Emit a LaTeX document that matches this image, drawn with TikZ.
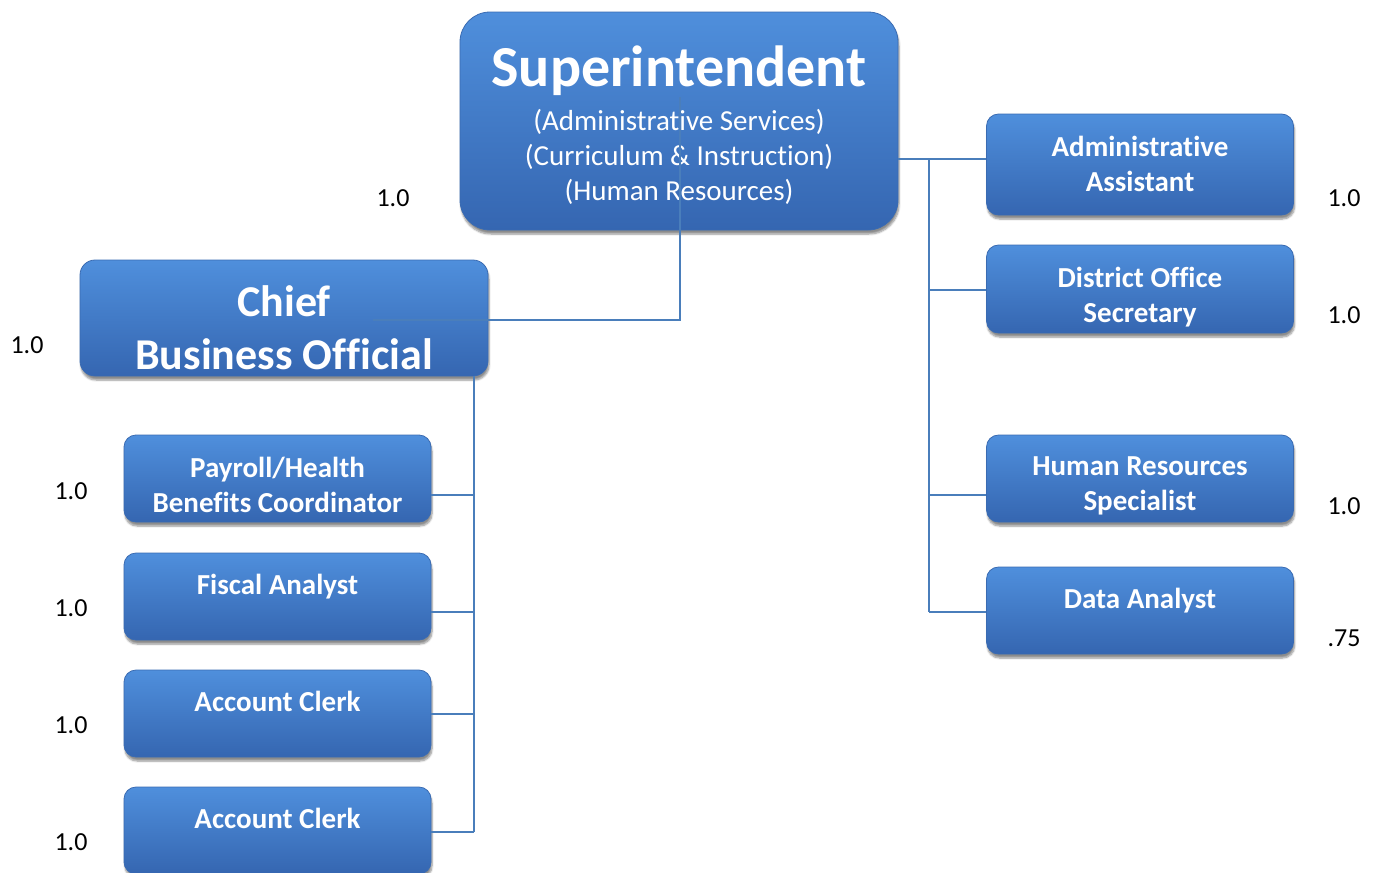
\documentclass[tikz,border=0pt]{standalone}
\usepackage{fontspec}
\setmainfont{Carlito}[Ligatures=NoCommon]
\usetikzlibrary{shadows.blur,calc}

\definecolor{boxtop}{HTML}{4F8FDC}
\definecolor{boxbot}{HTML}{3566B1}
\definecolor{boxedge}{HTML}{3A6BB2}
\definecolor{wire}{HTML}{4A7EBB}

\tikzset{
  card/.style={rounded corners=12pt, top color=boxtop, bottom color=boxbot,
    draw=boxedge, line width=0.8pt, inner sep=0pt,
    blur shadow={shadow xshift=1pt, shadow yshift=-4pt,
      shadow blur steps=6, shadow opacity=45}},
  smallcard/.style={card, minimum width=307pt, minimum height=87pt},
  cardtext/.style={text=white, align=center, inner sep=0pt, anchor=north,
    font=\fontsize{29}{35}\selectfont\bfseries},
  fte/.style={text=black, inner sep=0pt, font=\fontsize{26}{30}\selectfont},
  wireline/.style={draw=wire, line width=1.6pt},
}

\begin{document}
\begin{tikzpicture}[x=1pt, y=-1pt]
\useasboundingbox (0,0) rectangle (1377,873);

% top level
\node[card, rounded corners=30pt, minimum width=438pt, minimum height=218pt] (sup) at (679,121) {};
\node[text=white, align=center, inner sep=0pt, anchor=north,
      font=\fontsize{29}{35}\selectfont] (sup-t) at ($(sup.north)+(0,34)$)
  {{\fontsize{58}{60}\selectfont\bfseries Superintendent}\\[9pt]
   (Administrative Services)\\
   (Curriculum \& Instruction)\\
   (Human Resources)};

\node[card, rounded corners=15pt, minimum width=408pt, minimum height=116pt] (cbo) at (284,318) {};
\node[text=white, align=center, inner sep=0pt, anchor=north,
      font=\fontsize{44}{53}\selectfont\bfseries] (cbo-t) at ($(cbo.north)+(0,26)$)
  {Chief\\Business Official};

% business office staff
\node[smallcard] (pay) at (277.5,478.5) {};
\node[cardtext] (pay-t) at ($(pay.north)+(0,22)$) {Payroll/Health\\Benefits Coordinator};
\node[smallcard] (fis) at (277.5,596.5) {};
\node[cardtext] (fis-t) at ($(fis.north)+(0,21)$) {Fiscal Analyst};
\node[smallcard] (ac1) at (277.5,713.5) {};
\node[cardtext] (ac1-t) at ($(ac1.north)+(0,21)$) {Account Clerk};
\node[smallcard] (ac2) at (277.5,830.5) {};
\node[cardtext] (ac2-t) at ($(ac2.north)+(0,21)$) {Account Clerk};

% superintendent's office staff
\node[smallcard, minimum height=101pt] (aa) at (1140,164.5) {};
\node[cardtext] (aa-t) at ($(aa.north)+(0,22)$) {Administrative\\Assistant};
\node[smallcard, minimum height=88pt] (dos) at (1140,289) {};
\node[cardtext] (dos-t) at ($(dos.north)+(0,22)$) {District Office\\Secretary};
\node[smallcard] (hr) at (1140,478.5) {};
\node[cardtext] (hr-t) at ($(hr.north)+(0,22)$) {Human Resources\\Specialist};
\node[smallcard] (da) at (1140,610.5) {};
\node[cardtext] (da-t) at ($(da.north)+(0,21)$) {Data Analyst};

% connectors
\coordinate (supin) at (680,97);
\coordinate (cboin) at (373,320);
\draw[wireline] (supin) |- (cboin);

\coordinate (lbus) at (474,376);
\coordinate (rbus) at (929,159);
\draw[wireline] (cbo.south -| lbus) -- (lbus |- 0,832);
\draw[wireline] (lbus |- 0,495) -- (pay.east |- 0,495);
\draw[wireline] (lbus |- 0,612) -- (fis.east |- 0,612);
\draw[wireline] (lbus |- 0,714) -- (ac1.east |- 0,714);
\draw[wireline] (lbus |- 0,832) -- (ac2.east |- 0,832);

\draw[wireline] (sup.east |- rbus) -- (aa.west |- rbus);
\draw[wireline] (rbus) -- (rbus |- 0,612);
\draw[wireline] (rbus |- 0,290) -- (dos.west |- 0,290);
\draw[wireline] (rbus |- 0,495) -- (hr.west |- 0,495);
\draw[wireline] (rbus |- 0,612) -- (da.west |- 0,612);

% FTE figures
\node[fte] (f-sup) at (393,198) {1.0};
\node[fte] (f-cbo) at (27,345) {1.0};
\node[fte] (f-pay) at (71,491) {1.0};
\node[fte] (f-fis) at (71,608) {1.0};
\node[fte] (f-ac1) at (71,725) {1.0};
\node[fte] (f-ac2) at (71,842) {1.0};
\node[fte] (f-aa) at (1344,198) {1.0};
\node[fte] (f-dos) at (1344,315) {1.0};
\node[fte] (f-hr) at (1344,506) {1.0};
\node[fte] (f-da) at (1344,638) {.75};
\end{tikzpicture}
\end{document}
